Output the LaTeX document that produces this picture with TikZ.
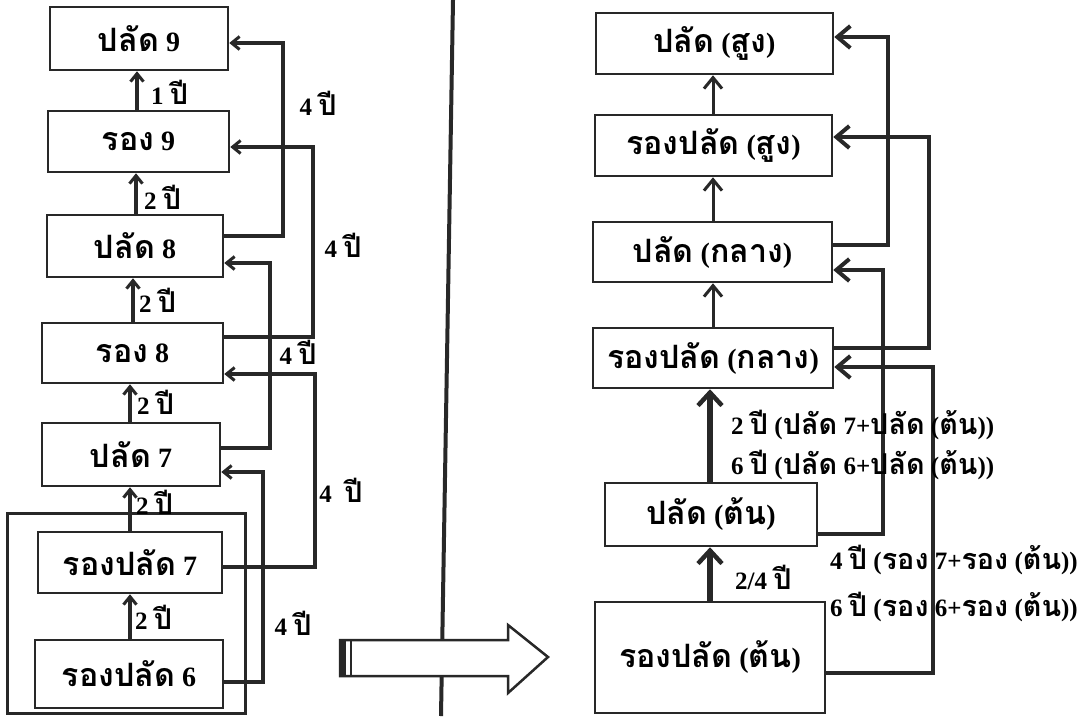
\documentclass[tikz,border=0pt]{standalone}
\usepackage{fontspec}
\setmainfont{Liberation Serif}
\newfontfamily\thaifont[Script=Thai,Scale=1.15]{Loma}
\newcommand\T[1]{{\thaifont\bfseries #1}}
\usetikzlibrary{arrows.meta,calc}
\definecolor{ink}{RGB}{40,40,40}
\begin{document}
\begin{tikzpicture}[x=1pt,y=-1pt,
  box/.style={draw=ink, line width=2.5pt, inner sep=0pt, text=black,
    font=\fontsize{28}{32}\selectfont\bfseries},
  grp/.style={draw=ink, line width=3pt, inner sep=0pt},
  lbl/.style={inner sep=0pt, text=black, font=\fontsize{25}{29}\selectfont\bfseries},
  varr/.style={draw=ink, line width=3.5pt, -{Straight Barb[length=8pt,width=13pt,line width=3pt]}},
  conn/.style={draw=ink, line width=3.5pt, -{Straight Barb[length=8pt,width=13pt,line width=3pt]}},
  rthin/.style={draw=ink, line width=3pt, -{Straight Barb[length=11pt,width=18pt,line width=3pt]}},
  rthick/.style={draw=ink, line width=5.5pt, -{Straight Barb[length=13pt,width=24pt,line width=4.5pt]}},
  rconn/.style={draw=ink, line width=4.5pt, -{Straight Barb[length=13pt,width=22pt,line width=4pt]}}
]
\useasboundingbox (0,0) rectangle (1084,716);
\fill[white] (0,0) rectangle (1084,716);

% ---------- left column ----------
\node[grp, minimum width=238, minimum height=200] (grp) at (126,613) {};
\node[box, minimum width=178, minimum height=63] (p9) at (139,38.5) {\T{ปลัด} 9};
\node[box, minimum width=181, minimum height=61] (r9) at (138.5,141.5) {\T{รอง} 9};
\node[box, minimum width=176, minimum height=62] (p8) at (135,246) {\T{ปลัด} 8};
\node[box, minimum width=181, minimum height=60] (r8) at (132.5,353) {\T{รอง} 8};
\node[box, minimum width=178, minimum height=63] (p7) at (131,454.5) {\T{ปลัด} 7};
\node[box, minimum width=184, minimum height=61] (rp7) at (130,562.5) {\T{รองปลัด} 7};
\node[box, minimum width=188, minimum height=68] (rp6) at (129,674) {\T{รองปลัด} 6};

\draw[varr] (r9.north -| 137,0) -- (p9.south -| 137,0);
\draw[varr] (p8.north -| 136,0) -- (r9.south -| 136,0);
\draw[varr] (r8.north -| 133,0) -- (p8.south -| 133,0);
\draw[varr] (p7.north -| 130,0) -- (r8.south -| 130,0);
\draw[varr] (rp7.north -| 130,0) -- (p7.south -| 130,0);
\draw[varr] (rp6.north -| 130,0) -- (rp7.south -| 130,0);

\node[lbl, anchor=west] (v1) at (151,92) {1 \T{ปี}};
\node[lbl, anchor=west] (v2) at (144,197) {2 \T{ปี}};
\node[lbl, anchor=west] (v3) at (139,300) {2 \T{ปี}};
\node[lbl, anchor=west] (v4) at (137,402) {2 \T{ปี}};
\node[lbl, anchor=west] (v5) at (136,502) {2 \T{ปี}};
\node[lbl, anchor=west] (v6) at (135,617) {2 \T{ปี}};

\draw[conn] (p8.east |- 0,236) -| (283,43) -- (p9.east |- 0,43);
\draw[conn] (r8.east |- 0,337) -| (313,147) -- (r9.east |- 0,147);
\draw[conn] (p7.east |- 0,448) -| (270,263) -- (p8.east |- 0,263);
\draw[conn] (rp7.east |- 0,567) -| (315,374) -- (r8.east |- 0,374);
\draw[conn] (rp6.east |- 0,682) -| (263,472) -- (p7.east |- 0,472);

\node[lbl] (h1) at (318,103) {4 \T{ปี}};
\node[lbl] (h2) at (343,245) {4 \T{ปี}};
\node[lbl] (h3) at (298,352) {4 \T{ปี}};
\node[lbl] (h4) at (341,490) {4\ \ \T{ปี}};
\node[lbl] (h5) at (293,623) {4 \T{ปี}};

% ---------- divider and big arrow ----------
\draw[ink, line width=4pt] (453,0) -- (441,716);
\draw[ink, line width=2.5pt, fill=white] (340,640) -- (508,640) -- (508,625) -- (548,657) -- (508,693) -- (508,676) -- (340,676) -- cycle;
\fill[ink] (340,640) rectangle (346,676);
\draw[ink, line width=2.5pt] (351,640) -- (351,676);

% ---------- right column ----------
\node[box, minimum width=237, minimum height=61] (A) at (714.5,43.5) {\T{ปลัด} (\T{สูง})};
\node[box, minimum width=237, minimum height=61] (B) at (713.5,145.5) {\T{รองปลัด} (\T{สูง})};
\node[box, minimum width=239, minimum height=60] (C) at (712.5,252) {\T{ปลัด} (\T{กลาง})};
\node[box, minimum width=240, minimum height=60] (D) at (713,358) {\T{รองปลัด} (\T{กลาง})};
\node[box, minimum width=212, minimum height=63] (E) at (711,514.5) {\T{ปลัด} (\T{ต้น})};
\node[box, minimum width=230, minimum height=111] (F) at (710,657.5) {\T{รองปลัด} (\T{ต้น})};

\draw[rthin] (B.north -| 713,0) -- (A.south -| 713,0);
\draw[rthin] (C.north -| 713,0) -- (B.south -| 713,0);
\draw[rthin] (D.north -| 713,0) -- (C.south -| 713,0);
\draw[rthick] (E.north -| 710,0) -- (D.south -| 710,0);
\draw[rthick] (F.north -| 710,0) -- (E.south -| 710,0);

\draw[rconn] (C.east |- 0,245) -| (888,37) -- (A.east |- 0,37);
\draw[rconn] (D.east |- 0,348) -| (929,137) -- (B.east |- 0,137);
\draw[rconn] (E.east |- 0,534) -| (883,270) -- (C.east |- 0,270);
\draw[rconn] (F.east |- 0,673) -| (933,367) -- (D.east |- 0,367);

\node[lbl, anchor=west] (t1) at (731,425) {2 \T{ปี} (\T{ปลัด} 7+\T{ปลัด} (\T{ต้น}))};
\node[lbl, anchor=west] (t2) at (731,465) {6 \T{ปี} (\T{ปลัด} 6+\T{ปลัด} (\T{ต้น}))};
\node[lbl, anchor=west] (t3) at (735,577) {2/4 \T{ปี}};
\node[lbl, anchor=west] (t4) at (830,560) {4 \T{ปี} (\T{รอง} 7+\T{รอง} (\T{ต้น}))};
\node[lbl, anchor=west] (t5) at (830,607) {6 \T{ปี} (\T{รอง} 6+\T{รอง} (\T{ต้น}))};
\end{tikzpicture}
\end{document}
